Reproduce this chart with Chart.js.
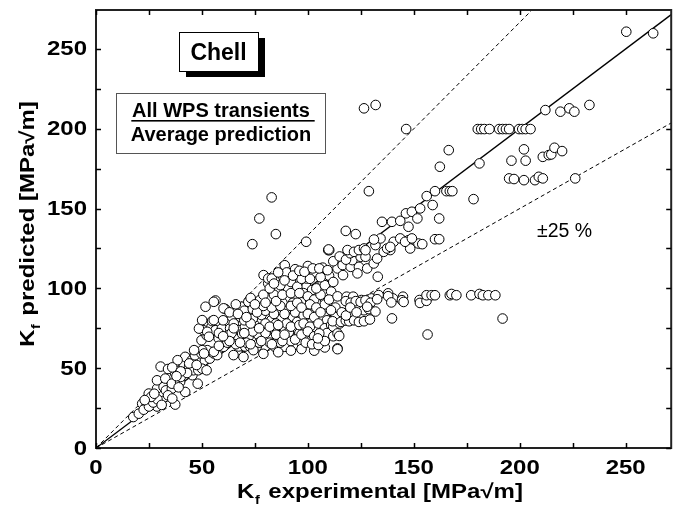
<!DOCTYPE html>
<html>
<head>
<meta charset="utf-8">
<script src="https://cdn.jsdelivr.net/npm/chart.js@4.4.0/dist/chart.umd.min.js"></script>
<style>
  html, body { margin: 0; padding: 0; background: #fff; }
  #wrap { width: 677px; height: 508px; }
</style>
</head>
<body>
<div id="wrap"><canvas id="kfChart" width="677" height="508"></canvas></div>
<script>
// axis setup
const xTicks = [0, 50, 100, 150, 200, 250];
const yTicks = [0, 50, 100, 150, 200, 250];
const minorStep = 25;
const xMax = 271.5;
const yMax = 274.4;
const bandFactors = [0.75, 1, 1 / 0.75]; // -25 %, 1:1, +25 %

// [K_f experimental, K_f predicted]
const kfPairs = [
  // low range
  [17.6,19.4],[20.2,21.5],[21.8,27.8],[23.5,25.5],[24.1,28.8],[25.7,29.9],[26.5,27],[27.3,29.9],[28,31],[28.8,26],
  [29.6,31],[30.5,28.5],[31.2,31.6],[32.7,32],[30.4,35.1],[24.9,34.1],[28.8,37.2],[31.9,38.2],[33,36.1],[35.8,37.2],
  [37.4,27.2],[42.1,35.1],[28.8,42.4],[32.7,43.5],[35.8,40.3],[39.7,41.4],[37.4,46.7],[40,44.5],[30.5,51],[34,49.5],
  [41.3,50.8],[41.5,51.9],[42.1,57.1],[43.9,50.8],[45.2,55],[45.5,45.6],[46,48.7],[47,55],[48,40.3],[48.3,48.7],
  [46.7,58.1],[49.8,59.2],[50.1,49.7],[52.2,48.7],[53,59.2],[53.7,56],[54.5,60.2],[52.5,61.3],[50.1,61.3],[55.6,59.2],
  [57.2,58.2],[46.3,61.3],[51,59.2],[38.5,55],[36,50.5],
  [22.5,24],[25,26],[27,28.5],[29,30.5],[26,32],[23,30],[31,27],[34,33],[27.5,34],[36,31],
  [39,38],[43,47],[44,53],[40,48],[47.5,52],[38,45],
  // mid-left
  [49.8,67.5],[52.2,70.6],[51.4,78],[54.5,75.9],[50.6,73.8],[48.6,74.8],[54.8,79.5],[56.4,73.8],[52.5,72.8],[51.7,88.5],
  [56.4,92.4],[61,87.1],[55.6,91.6],[60.2,87.5],[50.1,80.1],[55.6,80.1],[53.3,69.7],[57.9,68.7],[59.4,74.9],[63.3,74.9],
  [64.1,82.2],[68,82.2],[68.8,88.5],[71.9,91.6],[60.2,63.4],[64.9,58.2],[55.6,60.3],[62.6,70.8],
  // core
  [67.3,73.9],[70.3,76],[75,77],[78.9,74.9],[84.4,73.9],[89.1,74.9],[93.8,74.9],[98.4,73.9],
  [67.3,68.7],[72,69.7],[76.6,70.8],[81.3,68.7],[86,68.7],[90.7,70.8],[95.3,67.6],[100,69.7],
  [69.6,63.4],[75,63.4],[79.7,63.4],[84.4,63.4],[89.1,63.4],[93.8,64.4],[67.3,63.6],[70.4,63.6],[72.7,63.6],[75.9,63.6],
  [69.6,57],[74.3,61.3],
  [72.6,84.3],[78.1,83.3],[82.8,80.1],[87.5,81.2],[92.9,82.2],[98.4,80.1],
  [76.6,88.5],[86,86.4],[90.7,87.5],[96.1,88.5],[99.3,85.4],
  [77.4,92.7],[81.3,93.7],[86.7,93.7],[90.7,93.7],[94.6,94.8],
  [81.3,103.1],[85.2,99.9],[90.7,99.9],[96.1,98.9],[99.3,101],
  [79.1,108.3],[81.3,106.2],[83,106.2],[88.4,107.2],[99.3,110.4],[99.3,106.2],[89.1,114.5],
  [60,80],[65,78],[70,80],[74,81],[80,78],[85,78],[90,78],[95,79],
  [62,66],[66,65],[71,66],[77,66],[82,66],[87,66],[92,67],[97,66],
  [58,72],[64,72],[69,71.5],[74,73],[80,72],[85,71],[91,72.5],[96,72],
  [63,85],[70,86],[74,87],[80,86],[84,84],[89,84],[94,85],[98,83],
  [66,90],[73,94],[79,96],[84,96],[88,91],[93,91],[97,92],
  [82,100],[87,102],[92,104],[95,101],[97,106],[90,110],[94,112],[86,110],
  [58,64],[63,67],[68,66],[73,65],[78,67],[83,65],[88,67],[94,68],[102,68],
  [60,70],[65,75],[70,72],[73,78],[77,75],[82,76],[86,77],[89,71],[92,76],[96,77],[99,76],[102,79],
  [67,84],[71,82],[76,85],[79,89],[83,88],[87,89],[92,89],[95,91],[101,93],[104,91],
  [75,90],[80,91],[85,92],[88,96],[92,97],[98,97],[102,99],[107,104],
  [84,103],[89,105],[93,108],[96,111],[100,114],[103,110],[107,113],[110,108],
  [79,59],[86,60],[92,61],[97,62],[103,61],[108,63],
  // 95 - 130
  [96,97],[100,95],[103,93],[106,96],[101,90],[104,88],[108,90],[97,88],[100,84],[103,82],
  [106,85],[109,80],[111,86],[98,78],[101,76],[105,78],[108,75],[111,77],[97,71],[100,73],
  [103,70],[106,71],[109,72],[112,70],[99,66],[102,65],[105,64.5],[108,67],[104,100],[108,102],
  [111,98],[101,106],[106,107],[112,104],[110,93],[114,95],[113,88],[113,82],[116,85],[112,76],[115,78],
  [105.4,71.8],[114,71.8],[104.7,68.7],[114,62.4],[114.8,70.2],
  [98.4,110.4],[102.3,112.5],[105.4,112.5],[109.3,111.4],[114,112.5],[116.4,114.6],[120.2,113.5],[124.1,113.5],
  [128,112.5],[131.1,115.6],[121,117.7],[124.9,119.8],[127.2,119.8],[132.7,118.7],[135.8,122.9],[138.9,124],
  [116.6,108.3],[123.4,109.4],[133,107.3],[112,117],[115,120],[118,118],[120,122],
  [118.3,94.8],[121.4,94.8],[125.3,92.7],[130,93.7],[133.4,95.8],[137.9,96.9],[140.2,93.7],[144.9,94.8],[152.7,92.7],
  [117.9,92],[120.2,91],[122.6,92],[124.9,91.5],[127.2,92.5],[129.6,91],[132.7,93.2],
  [110.9,86.3],[126.5,86.3],[128.8,87],[131.9,85.5],[128,88.5],
  [111.7,79.4],[115.6,79],[117.9,79.8],[119.5,79.4],[121.8,80],[124.1,79],[126.5,79.4],[129.3,80.5],[139.7,81.2],
  [114,61.9],[118,83],[120,88],[123,85],
  // below the -25 % line, right
  [137.9,95.1],[139.4,91.2],[144.4,92.6],[145.2,91.5],[152.9,90.9],[156,92.2],[156,95.7],[158.4,95.7],[160,95.7],
  [167,95.7],[167.8,96.5],[170.1,95.7],[177.1,95.7],[181,96.5],[182.6,95.7],[185.2,95.7],[188.5,95.7],
  [156.5,71.1],[191.9,81.1],
  // upper band
  [99.2,129.2],[109.6,124],[118.7,124],[121.8,122.9],[124.1,124],[126.5,125],[131.9,127.1],[134.3,131.3],[137.4,125],
  [140.5,129.2],[143.6,131.3],[147.5,130.2],[148.3,125],[152.2,128.1],
  [110.1,123.9],[127.2,123.9],[131.2,130.6],[138.9,126],[145.9,129.2],[149.1,131.3],[154,127.7],[160,130.8],[162,130.8],
  [117.9,136],[122.6,134],[135,141.7],[139.7,141.7],[143.6,142.3],[147.5,138.6],[146.3,147],[149.1,148],[153,150.1],
  [151.7,143.8],[162,143.8],[158.9,152.2],[156.1,157.8],[160,160.9],[165.4,160.9],[167,160.9],[168.2,160.9],
  [178.2,155.9],[128.8,160.9],[162.3,176.2],[166.5,186.6],[181,178.3],[146.4,199.8],[126.5,212.8],[132,214.9],
  // outliers above +25 %
  [82.9,157],[77.1,143.8],[84.9,134],[73.8,127.7],[109.8,124.4],
  // top right
  [180.2,199.8],[181.8,199.8],[183.3,199.8],[185.7,199.8],[190.3,199.8],[191.9,199.8],[193.5,199.8],[195,199.8],
  [199.7,199.8],[201.2,199.8],[202.8,199.8],[205.1,199.8],
  [212.1,211.7],[219.2,210.7],[223.4,212.8],[225.8,210.7],[232.9,214.9],[250.3,260.8],[263,259.8],
  [196.1,180],[202.8,180],[202,187.1],[210.9,182.4],[213.7,183.5],[214.9,183.9],[216.4,188.1],[220,186],
  [195,168.9],[197.3,168.5],[202,167.8],[207.2,167.8],[209,169.9],[210.9,168.9],[226.2,168.9]
];

const FONT = '"Liberation Sans", Arial, sans-serif';

function lineThrough(f) {
  const xEnd = Math.min(xMax, yMax / f);
  return [{ x: 0, y: 0 }, { x: xEnd, y: xEnd * f }];
}

// stretched text (the axis lettering in the original is wide)
function wideText(ctx, text, x, y, sx) {
  ctx.save();
  ctx.translate(x, y);
  ctx.scale(sx, 1);
  ctx.fillText(text, 0, 0);
  ctx.restore();
}

// "K" + subscript "f" + rest, centred on 0,0 along current transform
function drawKTitle(ctx, rest, sx) {
  const big = 'bold 20px ' + FONT;
  const small = 'bold 12px ' + FONT;
  ctx.font = big;
  const wK = ctx.measureText('K').width;
  const wRest = ctx.measureText(rest).width;
  ctx.font = small;
  const wF = ctx.measureText('f').width;
  const total = (wK + wF + 2 + wRest) * sx;
  ctx.save();
  ctx.translate(-total / 2, 0);
  ctx.scale(sx, 1);
  ctx.textAlign = 'left';
  ctx.textBaseline = 'alphabetic';
  ctx.font = big;
  ctx.fillText('K', 0, 0);
  ctx.font = small;
  ctx.fillText('f', wK + 0.5, 6);
  ctx.font = big;
  ctx.fillText(rest, wK + wF + 2, 0);
  ctx.restore();
}

const decorPlugin = {
  id: 'decor',
  beforeDraw(chart) {
    const { ctx, width, height } = chart;
    ctx.save();
    ctx.fillStyle = '#fff';
    ctx.fillRect(0, 0, width, height);
    ctx.restore();
  },
  afterDraw(chart) {
    const { ctx, chartArea: a, scales: { x, y } } = chart;
    ctx.save();

    // frame
    ctx.strokeStyle = '#222';
    ctx.lineWidth = 2;
    ctx.strokeRect(a.left, a.top, a.right - a.left, a.bottom - a.top);

    // inward ticks on all four sides
    ctx.lineWidth = 1.5;
    ctx.strokeStyle = '#000';
    ctx.beginPath();
    for (let v = 0; v <= xMax; v += minorStep) {
      const px = Math.round(x.getPixelForValue(v)) + 0.5;
      ctx.moveTo(px, a.bottom); ctx.lineTo(px, a.bottom - 5);
      ctx.moveTo(px, a.top); ctx.lineTo(px, a.top + 5);
    }
    for (let v = 0; v <= yMax; v += minorStep) {
      const py = Math.round(y.getPixelForValue(v)) + 0.5;
      ctx.moveTo(a.left, py); ctx.lineTo(a.left + 5, py);
      ctx.moveTo(a.right, py); ctx.lineTo(a.right - 5, py);
    }
    ctx.stroke();

    // tick labels
    ctx.fillStyle = '#000';
    ctx.font = 'bold 20px ' + FONT;
    ctx.textAlign = 'center';
    ctx.textBaseline = 'middle';
    xTicks.forEach(v => wideText(ctx, String(v), x.getPixelForValue(v), a.bottom + 20, 1.2));
    ctx.textAlign = 'right';
    yTicks.forEach(v => wideText(ctx, String(v), a.left - 9, y.getPixelForValue(v) + 1, 1.2));

    // axis titles
    ctx.save();
    ctx.translate(380, 498);
    drawKTitle(ctx, ' experimental [MPa\u221Am]', 1.2);
    ctx.restore();

    ctx.save();
    ctx.translate(34, 224);
    ctx.rotate(-Math.PI / 2);
    drawKTitle(ctx, ' predicted [MPa\u221Am]', 1.2);
    ctx.restore();

    // "Chell" box with shadow
    ctx.fillStyle = '#000';
    ctx.fillRect(186, 38, 79, 39);
    ctx.fillStyle = '#fff';
    ctx.fillRect(179, 32, 79, 39);
    ctx.strokeStyle = '#000';
    ctx.lineWidth = 1;
    ctx.strokeRect(179.5, 32.5, 79, 39);
    ctx.fillStyle = '#000';
    ctx.font = 'bold 23px ' + FONT;
    ctx.textAlign = 'center';
    ctx.textBaseline = 'alphabetic';
    ctx.fillText('Chell', 218.5, 60);

    // description box
    ctx.fillStyle = '#fff';
    ctx.fillRect(116, 93, 209, 60);
    ctx.strokeStyle = '#555';
    ctx.strokeRect(116.5, 93.5, 209, 60);
    ctx.fillStyle = '#000';
    ctx.font = 'bold 20px ' + FONT;
    ctx.fillText('All WPS transients', 221, 117);
    const wLine = ctx.measureText('All WPS transients ').width;
    ctx.fillRect(221 - wLine / 2 + 2, 120, wLine, 1.6);
    ctx.fillText('Average prediction', 221, 141);

    // band label
    ctx.font = '19.5px ' + FONT;
    ctx.textAlign = 'left';
    ctx.fillText('\u00B125 %', 537, 237);

    ctx.restore();
  }
};

const lineSets = bandFactors.map(f => ({
  type: 'line',
  data: lineThrough(f),
  showLine: true,
  borderColor: '#000',
  borderWidth: f === 1 ? 1.3 : 1,
  borderDash: f === 1 ? [] : [4, 3],
  pointRadius: 0,
  fill: false,
  order: 2
}));

new Chart(document.getElementById('kfChart'), {
  type: 'scatter',
  data: {
    datasets: [
      {
        data: kfPairs.map(([x, y]) => ({ x, y })),
        pointStyle: 'circle',
        pointRadius: 4.8,
        borderWidth: 1,
        borderColor: '#000',
        backgroundColor: '#fff',
        order: 1
      },
      ...lineSets
    ]
  },
  options: {
    responsive: false,
    animation: false,
    events: [],
    layout: { padding: { top: 10, right: 0, bottom: 0, left: 0 } },
    plugins: { legend: { display: false }, tooltip: { enabled: false } },
    scales: {
      x: {
        type: 'linear', min: 0, max: xMax,
        grid: { display: false }, border: { display: false },
        ticks: { display: false },
        afterFit: s => { s.height = 60; }
      },
      y: {
        type: 'linear', min: 0, max: yMax,
        grid: { display: false }, border: { display: false },
        ticks: { display: false },
        afterFit: s => { s.width = 96; }
      }
    }
  },
  plugins: [decorPlugin]
});
</script>
</body>
</html>
